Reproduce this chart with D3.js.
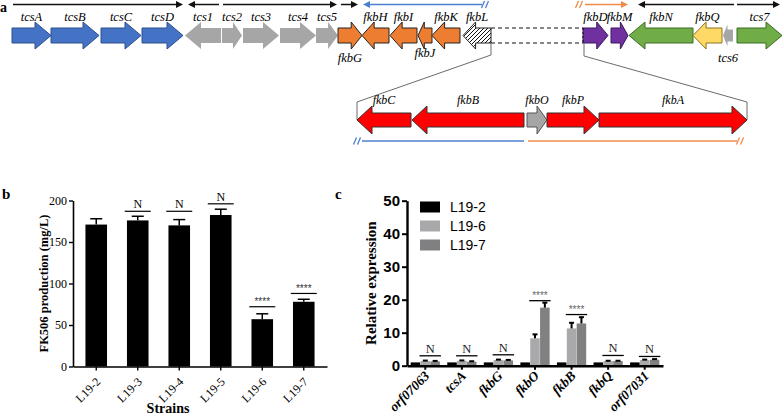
<!DOCTYPE html>
<html lang="en">
<head>
  <meta charset="UTF-8">
  <title>FK506 cluster, production and expression</title>
  <script src="https://d3js.org/d3.v7.min.js"></script>
  <style>
    body { margin: 0; background: #fff; }
    svg { display: block; }
    .serif { font-family: "Liberation Serif", "Times New Roman", serif; }
    .sans { font-family: "Liberation Sans", Arial, sans-serif; }
  </style>
</head>
<body>
<script>
// ---- panel a: gene map (map units) ----
const geneNames  = ["tcsA","tcsB","tcsC","tcsD","tcs1","tcs2","tcs3","tcs4","tcs5","fkbG","fkbH","fkbI","fkbJ","fkbK","fkbL","fkbD","fkbM","fkbN","fkbQ","tcs6","tcs7"];
const geneStart  = [12, 51, 101, 142, 185, 222, 243, 280, 316, 338, 362, 390, 418, 432, 463, 583, 611, 629, 693, 723, 737];
const geneEnd    = [51, 99, 141, 183, 221, 242, 279, 316, 338, 362, 389, 417, 432, 460, 491, 608, 628, 693, 722, 733, 782];
const geneStrand = [1, 1, 1, 1, -1, 1, 1, 1, 1, 1, -1, -1, -1, -1, -1, 1, 1, -1, -1, -1, 1];
const geneGroup  = ["tcs","tcs","tcs","tcs","other","other","other","other","other","fkb","fkb","fkb","fkb","fkb","deleted","fkbD","fkbD","fkbN","fkbQ","other","fkbN"];
const labelBelow = ["fkbG","fkbJ","tcs6"];

// deleted region, enlarged
const subNames  = ["fkbC","fkbB","fkbO","fkbP","fkbA"];
const subStart  = [357, 412, 527, 547, 599];
const subEnd    = [411, 524, 547, 599, 747];
const subStrand = [-1, -1, 1, 1, 1];
const subGroup  = ["pks","pks","other2","pks","pks"];

// transcription units drawn above the map
const unitFrom  = [13, 219, 223, 341, 482, 585, 734, 737];
const unitTo    = [183, 188, 337, 358, 363, 628, 638, 780];
const unitColor = ["black","black","black","black","blue","orange","black","black"];

// ---- panel b ----
const strains   = ["L19-2","L19-3","L19-4","L19-5","L19-6","L19-7"];
const fk506     = [171, 176, 170, 182.5, 57, 78];
const fk506Err  = [7, 5, 7, 7, 6.5, 3];
const fk506Sig  = ["", "N", "N", "N", "****", "****"];
const fk506SigY = [null, 187, 187, 196, 72, 88];
const fk506Ticks = [0, 50, 100, 150, 200];

// ---- panel c ----
const exprGenes = ["orf07063","tcsA","fkbG","fkbO","fkbB","fkbQ","orf07031"];
const exprSeries = ["L19-2","L19-6","L19-7"];
const exprL192 = [1.0, 1.0, 1.0, 1.0, 1.0, 1.0, 1.0];
const exprL196 = [1.4, 1.5, 1.7, 8.3, 11.3, 1.4, 1.7];
const exprL197 = [1.3, 1.2, 1.6, 17.6, 12.8, 1.4, 1.8];
const errL192  = [0.05, 0.05, 0.05, 0.05, 0.05, 0.05, 0.05];
const errL196  = [0.15, 0.1, 0.15, 1.2, 1.7, 0.1, 0.15];
const errL197  = [0.15, 0.15, 0.15, 1.5, 1.9, 0.1, 0.2];
const exprSig  = ["N","N","N","****","****","N","N"];
const exprSigY = [3.0, 3.0, 3.3, 19.7, 15.5, 3.1, 2.8];
const exprTicks = [0, 10, 20, 30, 40, 50];

const W = 783, H = 416;
const svg = d3.select("body").append("svg").attr("width", W).attr("height", H);

const defs = svg.append("defs");
const hatch = defs.append("pattern").attr("id", "hatch")
  .attr("patternUnits", "userSpaceOnUse").attr("width", 4).attr("height", 4);
hatch.append("rect").attr("width", 4).attr("height", 4).attr("fill", "#fff");
hatch.append("path").attr("d", "M-1,1 l2,-2 M0,4 l4,-4 M3,5 l2,-2")
  .attr("stroke", "#111").attr("stroke-width", 1);

const fillOf = {
  tcs: "#4472C4", other: "#A6A6A6", fkb: "#ED7D31", deleted: "url(#hatch)",
  fkbD: "#7030A0", fkbN: "#70AD47", fkbQ: "#FFD966", pks: "#FF0000", other2: "#A6A6A6"
};
const strokeOf = {
  tcs: "#2F4F8F", other: "none", fkb: "#222", deleted: "#222",
  fkbD: "#3a1860", fkbN: "#3d6b24", fkbQ: "#8a7420", pks: "#333", other2: "#555"
};
const lineColor = { black: "#111", blue: "#4F7FD0", orange: "#F08A4B" };

function arrowPath(x0, x1, strand, cy, bh, hh, h) {
  if (strand > 0) {
    return `M${x0},${cy - bh}L${x1 - h},${cy - bh}L${x1 - h},${cy - hh}L${x1},${cy}L${x1 - h},${cy + hh}L${x1 - h},${cy + bh}L${x0},${cy + bh}Z`;
  }
  return `M${x1},${cy - bh}L${x0 + h},${cy - bh}L${x0 + h},${cy - hh}L${x0},${cy}L${x0 + h},${cy + hh}L${x0 + h},${cy + bh}L${x1},${cy + bh}Z`;
}

// map units -> pixels
const xMap = d3.scaleLinear().domain([0, W]).range([0, W]);

const gA = svg.append("g");
gA.append("text").attr("class", "serif").attr("x", 0).attr("y", 12)
  .attr("font-size", 14).attr("font-weight", "bold").text("a");

// transcription unit arrows
const rowY = 4.5;
unitFrom.forEach((f, i) => {
  const x0 = xMap(f), x1 = xMap(unitTo[i]);
  const dir = x1 > x0 ? 1 : -1;
  const c = lineColor[unitColor[i]];
  gA.append("line").attr("x1", x0).attr("x2", x1 - dir * 4).attr("y1", rowY).attr("y2", rowY)
    .attr("stroke", c).attr("stroke-width", 1.5);
  gA.append("path").attr("d", `M${x1},${rowY}L${x1 - dir * 7},${rowY - 3.5}L${x1 - dir * 7},${rowY + 3.5}Z`)
    .attr("fill", c);
});

function breakMark(g, x, y, color) {
  [0, 4].forEach(dx => {
    g.append("line").attr("x1", x + dx - 1.5).attr("y1", y + 3.5)
      .attr("x2", x + dx + 1.5).attr("y2", y - 3.5)
      .attr("stroke", color).attr("stroke-width", 1.3);
  });
}
breakMark(gA, xMap(482) + 1, rowY, lineColor.blue);
breakMark(gA, xMap(585) - 8, rowY, lineColor.orange);

// genes row 1
const cy1 = 35.5;
geneNames.forEach((name, i) => {
  const x0 = xMap(geneStart[i]), x1 = xMap(geneEnd[i]);
  const len = x1 - x0;
  const h = Math.min(16, 0.45 * len);
  const small = name === "tcs6";
  gA.append("path")
    .attr("d", arrowPath(x0, x1, geneStrand[i], cy1, small ? 6 : 7.5, small ? 11 : 13.5, h))
    .attr("fill", fillOf[geneGroup[i]])
    .attr("stroke", strokeOf[geneGroup[i]])
    .attr("stroke-width", 1);
  const below = labelBelow.includes(name);
  gA.append("text").attr("class", "serif")
    .attr("x", (x0 + x1) / 2).attr("y", below ? (name === "fkbJ" ? 57 : 62) : 21)
    .attr("text-anchor", "middle").attr("font-size", 12.5).attr("font-style", "italic")
    .text(name);
});

// dashed gap between fkbL and fkbD
const gapL = xMap(geneEnd[14]), gapR = xMap(geneStart[15]);
[cy1 - 7.5, cy1 + 7.5].forEach(y => {
  gA.append("line").attr("x1", gapL).attr("x2", gapR).attr("y1", y).attr("y2", y)
    .attr("stroke", "#111").attr("stroke-width", 1).attr("stroke-dasharray", "4,3");
});
gA.append("line").attr("x1", gapR).attr("x2", gapR).attr("y1", cy1 - 7.5).attr("y2", cy1 + 7.5)
  .attr("stroke", "#111").attr("stroke-width", 1).attr("stroke-dasharray", "2,2");

// genes row 2 (enlarged)
const cy2 = 120;
const subL = xMap(subStart[0]), subR = xMap(subEnd[subEnd.length - 1]);
const zoomStroke = "#6b6b6b";
gA.append("path")
  .attr("d", `M${gapL},${cy1 + 7.5}L${gapL},${55}L${subL},${102}L${subL},${cy2}`)
  .attr("fill", "none").attr("stroke", zoomStroke).attr("stroke-width", 1);
gA.append("path")
  .attr("d", `M${gapR + 1},${cy1 + 7.5}L${gapR + 1},${56}L${subR},${102}L${subR},${cy2}`)
  .attr("fill", "none").attr("stroke", zoomStroke).attr("stroke-width", 1);

subNames.forEach((name, i) => {
  const x0 = xMap(subStart[i]), x1 = xMap(subEnd[i]);
  const h = Math.min(15, 0.5 * (x1 - x0));
  gA.append("path")
    .attr("d", arrowPath(x0, x1, subStrand[i], cy2, 7, 14, h))
    .attr("fill", fillOf[subGroup[i]])
    .attr("stroke", strokeOf[subGroup[i]])
    .attr("stroke-width", 1);
  gA.append("text").attr("class", "serif")
    .attr("x", (x0 + x1) / 2).attr("y", 104)
    .attr("text-anchor", "middle").attr("font-size", 12).attr("font-style", "italic")
    .text(name);
});

// extent lines below the enlarged region
const yExt = 141;
gA.append("line").attr("x1", xMap(362)).attr("x2", xMap(subEnd[1])).attr("y1", yExt).attr("y2", yExt)
  .attr("stroke", lineColor.blue).attr("stroke-width", 1.3);
breakMark(gA, xMap(355), yExt, lineColor.blue);
gA.append("line").attr("x1", xMap(subStart[2]) + 1).attr("x2", xMap(737)).attr("y1", yExt).attr("y2", yExt)
  .attr("stroke", lineColor.orange).attr("stroke-width", 1.3);
breakMark(gA, xMap(738), yExt, lineColor.orange);

// ---- panel b: FK506 production ----
const gB = svg.append("g");
gB.append("text").attr("class", "serif").attr("x", 2).attr("y", 199)
  .attr("font-size", 15).attr("font-weight", "bold").text("b");

const xB = d3.scaleBand().domain(strains).range([73, 327]).paddingInner(0.48).paddingOuter(0.3);
const yB = d3.scaleLinear().domain([0, 200]).range([366.5, 200.5]);

gB.selectAll("rect.bar").data(strains).join("rect").attr("class", "bar")
  .attr("x", d => xB(d)).attr("width", xB.bandwidth())
  .attr("y", (d, i) => yB(fk506[i])).attr("height", (d, i) => yB(0) - yB(fk506[i]))
  .attr("fill", "#000");

strains.forEach((s, i) => {
  const cx = xB(s) + xB.bandwidth() / 2;
  const top = yB(fk506[i] + fk506Err[i]);
  gB.append("line").attr("x1", cx).attr("x2", cx).attr("y1", yB(fk506[i])).attr("y2", top)
    .attr("stroke", "#000").attr("stroke-width", 1.5);
  gB.append("line").attr("x1", cx - 6).attr("x2", cx + 6).attr("y1", top).attr("y2", top)
    .attr("stroke", "#000").attr("stroke-width", 1.5);
  if (fk506Sig[i]) {
    const ys = yB(fk506SigY[i]);
    gB.append("line").attr("x1", cx - 13).attr("x2", cx + 13).attr("y1", ys).attr("y2", ys)
      .attr("stroke", "#000").attr("stroke-width", 1.2);
    const star = fk506Sig[i] !== "N";
    gB.append("text").attr("class", star ? "sans" : "serif")
      .attr("x", cx).attr("y", star ? ys - 1.5 : ys - 3)
      .attr("text-anchor", "middle").attr("font-size", star ? 10 : 12)
      .attr("fill", star ? "#333" : "#000")
      .text(fk506Sig[i]);
  }
});

const axBY = gB.append("g").attr("transform", `translate(73,0)`)
  .call(d3.axisLeft(yB).tickValues(fk506Ticks).tickSize(4).tickSizeOuter(0));
const axBX = gB.append("g").attr("transform", `translate(0,${yB(0)})`)
  .call(d3.axisBottom(xB).tickSize(4).tickSizeOuter(0));
[axBY, axBX].forEach(ax => {
  ax.select(".domain").attr("stroke", "#000").attr("stroke-width", 1.6);
  ax.selectAll(".tick line").attr("stroke", "#000").attr("stroke-width", 1.4);
  ax.selectAll("text").attr("class", "serif").attr("font-size", 12).attr("fill", "#000");
});
axBY.selectAll("text").attr("x", -6);
axBX.selectAll("text")
  .attr("text-anchor", "end").attr("x", 0).attr("y", 0).attr("dy", 0)
  .attr("transform", "translate(5,16) rotate(-45)");

gB.append("text").attr("class", "serif")
  .attr("transform", `translate(48,${(yB(0) + yB(200)) / 2}) rotate(-90)`)
  .attr("text-anchor", "middle").attr("font-size", 12.5).attr("font-weight", "bold")
  .text("FK506 production (mg/L)");
gB.append("text").attr("class", "serif").attr("x", 168).attr("y", 413)
  .attr("text-anchor", "middle").attr("font-size", 14).attr("font-weight", "bold")
  .text("Strains");

// ---- panel c: relative expression ----
const gC = svg.append("g");
gC.append("text").attr("class", "serif").attr("x", 335).attr("y", 199)
  .attr("font-size", 15).attr("font-weight", "bold").text("c");

const xC = d3.scaleBand().domain(exprGenes).range([407, 663]).paddingInner(0.2).paddingOuter(0.1);
const xC1 = d3.scaleBand().domain(exprSeries).range([0, xC.bandwidth()]).paddingInner(0.03);
const yC = d3.scaleLinear().domain([0, 50]).range([365.7, 200.7]);
const seriesVals = [exprL192, exprL196, exprL197];
const seriesErr = [errL192, errL196, errL197];
const seriesFill = ["#000000", "#A9A9AB", "#808082"];

exprSeries.forEach((s, k) => {
  gC.selectAll(`rect.s${k}`).data(exprGenes).join("rect").attr("class", `s${k}`)
    .attr("x", d => xC(d) + xC1(s)).attr("width", xC1.bandwidth())
    .attr("y", (d, i) => yC(seriesVals[k][i]))
    .attr("height", (d, i) => yC(0) - yC(seriesVals[k][i]))
    .attr("fill", seriesFill[k]);
  if (k > 0) {
    exprGenes.forEach((g, i) => {
      const cx = xC(g) + xC1(s) + xC1.bandwidth() / 2;
      const top = yC(seriesVals[k][i] + seriesErr[k][i]);
      gC.append("line").attr("x1", cx).attr("x2", cx).attr("y1", yC(seriesVals[k][i])).attr("y2", top)
        .attr("stroke", "#000").attr("stroke-width", 2);
      gC.append("line").attr("x1", cx - 2.5).attr("x2", cx + 2.5).attr("y1", top).attr("y2", top)
        .attr("stroke", "#000").attr("stroke-width", 2);
    });
  }
});

exprGenes.forEach((g, i) => {
  const x0 = xC(g) + xC1("L19-6"), x1 = xC(g) + xC1("L19-7") + xC1.bandwidth();
  const ys = yC(exprSigY[i]);
  gC.append("line").attr("x1", x0 - 1).attr("x2", x1 + 1).attr("y1", ys).attr("y2", ys)
    .attr("stroke", "#000").attr("stroke-width", 1.3);
  const star = exprSig[i] !== "N";
  gC.append("text").attr("class", star ? "sans" : "serif")
    .attr("x", (x0 + x1) / 2).attr("y", star ? ys - 1.5 : ys - 3)
    .attr("text-anchor", "middle").attr("font-size", star ? 10 : 12.5)
    .attr("fill", star ? "#666" : "#222")
    .text(exprSig[i]);
});

const axCY = gC.append("g").attr("transform", `translate(407,0)`)
  .call(d3.axisLeft(yC).tickValues(exprTicks).tickSize(5).tickSizeOuter(0));
const axCX = gC.append("g").attr("transform", `translate(0,${yC(0)})`)
  .call(d3.axisBottom(xC).tickSize(4).tickSizeOuter(0));
[axCY, axCX].forEach(ax => {
  ax.select(".domain").attr("stroke", "#000").attr("stroke-width", 2.4);
  ax.selectAll(".tick line").attr("stroke", "#000").attr("stroke-width", 2);
});
axCY.selectAll("text").attr("class", "sans").attr("font-size", 15).attr("font-weight", "bold")
  .attr("fill", "#000").attr("x", -7);
axCX.selectAll("text").attr("class", "serif").attr("font-size", 13.5).attr("font-weight", "bold")
  .attr("font-style", "italic").attr("fill", "#000")
  .attr("text-anchor", "end").attr("x", 0).attr("y", 0).attr("dy", 0)
  .attr("transform", "translate(5,11) rotate(-45)");

gC.append("text").attr("class", "serif")
  .attr("transform", `translate(376,${(yC(0) + yC(50)) / 2}) rotate(-90)`)
  .attr("text-anchor", "middle").attr("font-size", 15).attr("font-weight", "bold")
  .text("Relative expression");

const legC = gC.append("g");
exprSeries.forEach((s, k) => {
  const y = 207 + k * 19;
  legC.append("rect").attr("x", 420).attr("y", y - 5.5).attr("width", 20).attr("height", 11)
    .attr("fill", seriesFill[k]);
  legC.append("text").attr("class", "sans").attr("x", 450).attr("y", y + 5)
    .attr("font-size", 14).attr("fill", "#000").text(s);
});
</script>
</body>
</html>
